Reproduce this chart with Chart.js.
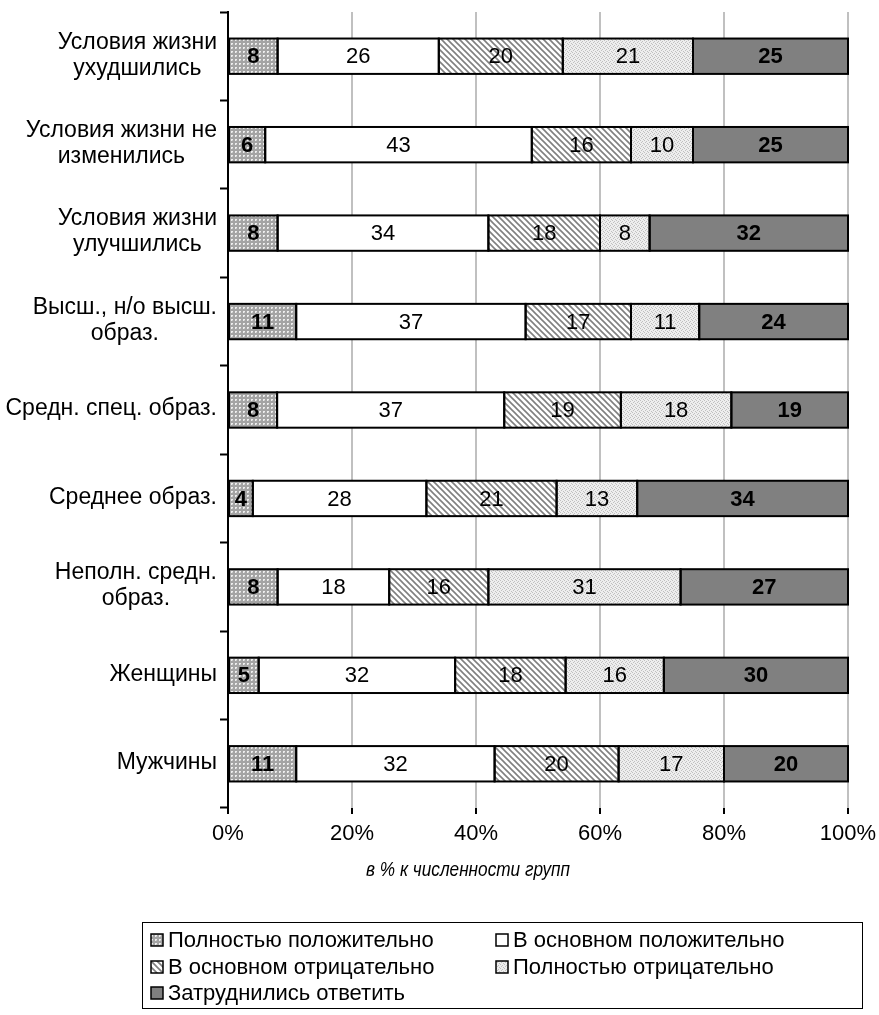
<!DOCTYPE html>
<html>
<head>
<meta charset="utf-8">
<script src="https://cdn.jsdelivr.net/npm/chart.js@4/dist/chart.umd.min.js"></script>
<style>
  body { margin: 0; background: #fff; }
  #wrap { width: 879px; height: 1015px; position: relative; }
</style>
</head>
<body>
<div id="wrap"><canvas id="chart"></canvas></div>
<script>
// categories, top to bottom
const categories = [
    ['Условия жизни', 'ухудшились'],
    ['Условия жизни не', 'изменились'],
    ['Условия жизни', 'улучшились'],
    ['Высш., н/о высш.', 'образ.'],
    ['Средн. спец. образ.'],
    ['Среднее образ.'],
    ['Неполн. средн.', 'образ.'],
    ['Женщины'],
    ['Мужчины']
];

const seriesNames = [
    'Полностью положительно',
    'В основном положительно',
    'В основном отрицательно',
    'Полностью отрицательно',
    'Затруднились ответить'
];

const fullyPositive  = [8, 6, 8, 11, 8, 4, 8, 5, 11];
const mostlyPositive = [26, 43, 34, 37, 37, 28, 18, 32, 32];
const mostlyNegative = [20, 16, 18, 17, 19, 21, 16, 18, 20];
const fullyNegative  = [21, 10, 8, 11, 18, 13, 31, 16, 17];
const hardToSay      = [25, 25, 32, 24, 19, 34, 27, 30, 20];

const xTickLabels = ['0%', '20%', '40%', '60%', '80%', '100%'];
const axisTitle = 'в % к численности групп';

const FONT = '"Liberation Sans", Arial, sans-serif';

// fill patterns
function makePattern(size, draw) {
    const c = document.createElement('canvas');
    c.width = size; c.height = size;
    const g = c.getContext('2d');
    draw(g, size);
    return g.createPattern(c, 'repeat');
}
const dotsPattern = makePattern(4, (g, s) => {
    g.fillStyle = '#eeeeee'; g.fillRect(0, 0, s, s);
    g.fillStyle = '#a4a4a4';
    g.fillRect(1, 0, 2, 1); g.fillRect(0, 1, 4, 2); g.fillRect(1, 3, 2, 1);
    g.fillStyle = '#c8c8c8'; g.fillRect(0, 0, 1, 1);
});
const stripePattern = makePattern(6, (g, s) => {
    g.fillStyle = '#fff'; g.fillRect(0, 0, s, s);
    g.strokeStyle = '#808080'; g.lineWidth = 1.6;
    g.beginPath();
    g.moveTo(-1, -1); g.lineTo(s + 1, s + 1);
    g.moveTo(-1, s - 1); g.lineTo(1, s + 1);
    g.moveTo(s - 1, -1); g.lineTo(s + 1, 1);
    g.stroke();
});
const finePattern = makePattern(4, (g, s) => {
    g.fillStyle = '#eeeeee'; g.fillRect(0, 0, s, s);
    g.fillStyle = '#c0c0c0';
    g.fillRect(0, 0, 1, 1); g.fillRect(2, 1, 1, 1); g.fillRect(1, 2, 1, 1); g.fillRect(3, 3, 1, 1);
});
const fills = [dotsPattern, '#ffffff', stripePattern, finePattern, '#808080'];
const rawSeries = [fullyPositive, mostlyPositive, mostlyNegative, fullyNegative, hardToSay];
const boldLabel = [true, false, false, false, true];

// Excel 100% stacked: each row is normalised to its own total
const totals = categories.map((c, i) => rawSeries.reduce((acc, s) => acc + s[i], 0));

const datasets = rawSeries.map((s, k) => ({
    label: seriesNames[k],
    data: s.map((v, i) => v / totals[i] * 100),
    raw: s,
    backgroundColor: fills[k],
    borderWidth: 0,
    barPercentage: 0.4,
    categoryPercentage: 1
}));

const decorations = {
    id: 'decorations',
    afterDatasetsDraw(chart) {
        const ctx = chart.ctx;
        ctx.save();
        // bar outlines
        ctx.strokeStyle = '#000';
        ctx.lineWidth = 2;
        chart.data.datasets.forEach((ds, k) => {
            chart.getDatasetMeta(k).data.forEach(el => {
                const left = Math.min(el.base, el.x), right = Math.max(el.base, el.x);
                ctx.strokeRect(left, el.y - el.height / 2, right - left, el.height);
            });
        });
        // value labels
        ctx.fillStyle = '#000';
        ctx.textAlign = 'center';
        ctx.textBaseline = 'middle';
        chart.data.datasets.forEach((ds, k) => {
            ctx.font = (boldLabel[k] ? 'bold ' : '') + '22px ' + FONT;
            chart.getDatasetMeta(k).data.forEach((el, i) => {
                ctx.fillText(String(ds.raw[i]), (el.base + el.x) / 2, el.y + 1);
            });
        });
        ctx.restore();
    },
    afterDraw(chart) {
        const ctx = chart.ctx;
        const yScale = chart.scales.y;
        ctx.save();
        ctx.fillStyle = '#000';
        ctx.textBaseline = 'middle';
        ctx.textAlign = 'center';
        // category labels: lines centred on each other, block right-aligned
        ctx.font = '23px ' + FONT;
        const lineH = 26;
        categories.forEach((lines, i) => {
            const cy = yScale.getPixelForValue(i);
            const w = Math.max(...lines.map(l => ctx.measureText(l).width));
            const cx = yScale.right - 11 - w / 2;
            lines.forEach((l, j) => {
                ctx.fillText(l, cx, cy + (j - (lines.length - 1) / 2) * lineH - 1);
            });
        });
        // axis title (slightly narrow italic)
        ctx.save();
        ctx.translate(468, 870);
        ctx.scale(0.86, 1);
        ctx.font = 'italic 20px ' + FONT;
        ctx.fillText(axisTitle, 0, 0);
        ctx.restore();
        // legend
        ctx.strokeStyle = '#000';
        ctx.lineWidth = 1;
        ctx.strokeRect(142.5, 922.5, 720, 86);
        ctx.textAlign = 'left';
        ctx.font = '22px ' + FONT;
        const cols = [151, 496], rows = [940, 967, 993];
        seriesNames.forEach((name, k) => {
            const x = cols[k % 2], y = rows[Math.floor(k / 2)];
            ctx.fillStyle = fills[k];
            ctx.fillRect(x, y - 6, 12, 12);
            ctx.lineWidth = 1.5;
            ctx.strokeRect(x, y - 6, 12, 12);
            ctx.fillStyle = '#000';
            ctx.fillText(name, x + 17, y + 1);
        });
        ctx.restore();
    }
};

new Chart(document.getElementById('chart'), {
    type: 'bar',
    data: { labels: categories.map(c => c.join(' ')), datasets: datasets },
    options: {
        indexAxis: 'y',
        responsive: true,
        maintainAspectRatio: false,
        animation: false,
        layout: { padding: { left: 220, right: 31, top: 12, bottom: 167 } },
        plugins: { legend: { display: false }, tooltip: { enabled: false } },
        scales: {
            x: {
                stacked: true,
                min: 0,
                max: 100,
                afterFit: scale => {
                    scale.height = 40;
                    scale.paddingLeft = 0;
                    scale.paddingRight = 0;
                },
                afterBuildTicks: scale => {
                    scale.ticks = xTickLabels.map((t, i) => ({ value: i * 20 }));
                },
                ticks: {
                    color: '#000',
                    padding: 7,
                    font: { family: FONT, size: 22 },
                    callback: (v, i) => xTickLabels[i]
                },
                grid: {
                    color: ctx => ctx.tick && ctx.tick.value === 0 ? 'rgba(0,0,0,0)' : '#c0c0c0',
                    lineWidth: 2,
                    tickColor: '#000',
                    tickWidth: 2,
                    tickLength: 6
                },
                border: { display: false }
            },
            y: {
                stacked: true,
                ticks: { display: false },
                grid: {
                    offset: true,
                    drawOnChartArea: false,
                    tickColor: '#000',
                    tickWidth: 2,
                    tickLength: 8
                },
                border: { display: true, color: '#000', width: 2 }
            }
        }
    },
    plugins: [decorations]
});
</script>
</body>
</html>
